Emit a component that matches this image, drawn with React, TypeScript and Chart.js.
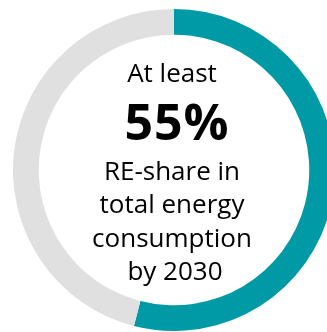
import React, { useEffect, useRef } from "react";
import { Chart, registerables } from "chart.js";

Chart.register(...registerables);

const categories = ["RE-share", "Other"];
const values = [54, 46];
const colors = ["#009AA6", "#E0E0E0"];
const headLine = "At least";
const bigLine = "55%";
const bodyLines = ["RE-share in", "total energy", "consumption", "by 2030"];

const FONT = "'Open Sans', 'Noto Sans', sans-serif";

export default function App() {
  const ref = useRef<HTMLCanvasElement | null>(null);
  useEffect(() => {
    if (!ref.current) return;
    const chart = new Chart(ref.current, {
      type: "doughnut",
      data: {
        labels: categories,
        datasets: [
          {
            data: values,
            backgroundColor: colors,
            borderWidth: 0,
          },
        ],
      },
      options: {
        animation: false,
        responsive: false,
        maintainAspectRatio: false,
        cutout: "84%",
        rotation: 0,
        layout: { padding: 0 },
        plugins: {
          legend: { display: false },
          tooltip: { enabled: false },
        },
      },
    });
    return () => chart.destroy();
  }, []);

  const lineStyle = (top: number, size: number, weight: number): React.CSSProperties => ({
    position: "absolute",
    left: 0,
    width: 344,
    top,
    fontFamily: FONT,
    fontSize: size,
    fontWeight: weight,
    lineHeight: `${size}px`,
    textAlign: "center",
    color: "#000",
    whiteSpace: "nowrap",
  });

  const bodyTops = [157, 190, 224, 257];
  const bodyShift = [0, 0, 0, 3];

  return (
    <div
      style={{
        position: "fixed",
        left: 0,
        top: 0,
        width: 327,
        height: 332,
        overflow: "hidden",
        background: "#fff",
      }}
    >
      <canvas
        ref={ref}
        width={322}
        height={322}
        style={{ position: "absolute", left: 13, top: 9, width: 322, height: 322 }}
      />
      <div style={lineStyle(59, 26, 400)}>{headLine}</div>
      <div style={{ ...lineStyle(96, 50, 700), left: 5, letterSpacing: 1 }}>{bigLine}</div>
      {bodyLines.map((t, i) => (
        <div key={i} style={{ ...lineStyle(bodyTops[i], 26, 400), left: bodyShift[i] }}>
          {t}
        </div>
      ))}
    </div>
  );
}
